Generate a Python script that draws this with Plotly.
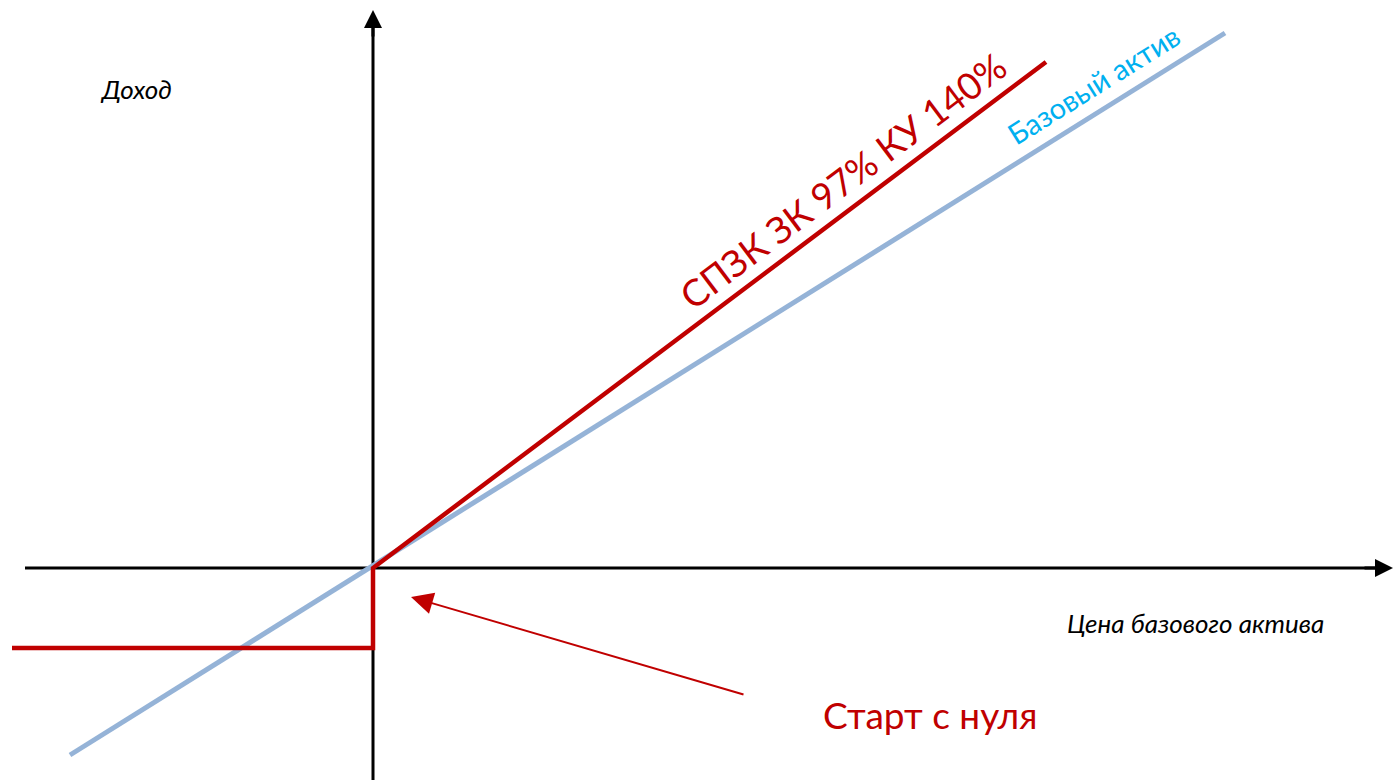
import plotly.graph_objects as go

# Data (origin = where the axes cross)
price_base = [-3.03, 8.52]
income_base = [-1.87, 5.35]

price_note = [-3.61, 0.0, 0.0, 6.73]
income_note = [-0.80, -0.80, 0.0, 5.06]

x_range = [-3.73, 10.20]
y_range = [-2.12, 5.68]

red = '#C00000'
blue_line = '#95B3D7'
blue_text = '#00B0F0'

fig = go.Figure()

fig.add_trace(go.Scatter(
    x=price_base, y=income_base,
    mode='lines',
    line=dict(color=blue_line, width=5),
    hoverinfo='skip'
))

fig.add_trace(go.Scatter(
    x=price_note, y=income_note,
    mode='lines',
    line=dict(color=red, width=4.5),
    hoverinfo='skip'
))

# axis lines below the traces, arrow heads as short annotations
fig.add_shape(type='line', x0=-3.48, y0=0, x1=10.10, y1=0, layer='below',
              line=dict(color='black', width=3))
fig.add_shape(type='line', x0=0, y0=y_range[0], x1=0, y1=5.50, layer='below',
              line=dict(color='black', width=3))
fig.add_annotation(x=x_range[1], y=0, ax=9.9, ay=0, xref='x', yref='y', axref='x', ayref='y',
                   showarrow=True, arrowhead=2, arrowsize=1.2, arrowwidth=3, arrowcolor='black', text='')
fig.add_annotation(x=0, y=5.58, ax=0, ay=5.3, xref='x', yref='y', axref='x', ayref='y',
                   showarrow=True, arrowhead=2, arrowsize=1.2, arrowwidth=3, arrowcolor='black', text='')

# pointer to the start
fig.add_annotation(x=0.38, y=-0.29, ax=3.72, ay=-1.27, xref='x', yref='y', axref='x', ayref='y',
                   showarrow=True, arrowhead=2, arrowsize=2.2, arrowwidth=2, arrowcolor=red, text='')

fig.add_annotation(x=4.69, y=3.88, text='СПЗК ЗК 97% КУ 140%', textangle=-37, showarrow=False,
                   font=dict(family='Lato', size=37, color=red))
fig.add_annotation(x=7.20, y=4.84, text='Базовый актив', textangle=-32, showarrow=False,
                   font=dict(family='Lato', size=29, color=blue_text))
fig.add_annotation(x=5.57, y=-1.46, text='Старт с нуля', showarrow=False,
                   font=dict(family='Lato', size=37, color=red))
fig.add_annotation(x=8.22, y=-0.55, text='<i>Цена базового актива</i>', showarrow=False,
                   font=dict(family='Lato', size=26, color='black'))
fig.add_annotation(x=-2.37, y=4.79, text='<i>Доход</i>', showarrow=False,
                   font=dict(family='Lato', size=26, color='black'))

fig.update_layout(
    width=1393, height=780,
    margin=dict(l=0, r=0, t=0, b=0),
    plot_bgcolor='white', paper_bgcolor='white',
    showlegend=False,
    xaxis=dict(range=x_range, visible=False, fixedrange=True),
    yaxis=dict(range=y_range, visible=False, fixedrange=True),
)

# drop the default page margin so the figure sits at the window corner
fig.write_html('out.html', config={'displayModeBar': False},
               post_script="document.body.style.margin='0';")
